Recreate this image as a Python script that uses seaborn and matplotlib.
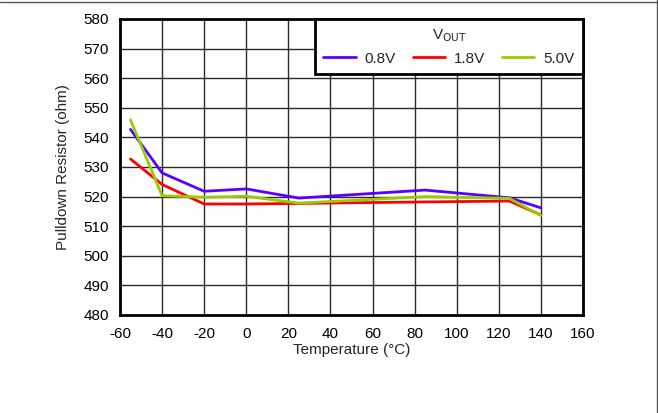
import pandas as pd
import seaborn as sns
import matplotlib.pyplot as plt
from matplotlib.lines import Line2D

temps = [-55, -40, -20, 0, 25, 85, 125, 140]
r_08v = [542.7, 528.0, 521.8, 522.6, 519.5, 522.2, 519.6, 516.2]
r_18v = [532.7, 524.1, 517.5, 517.5, 517.7, 518.2, 518.5, 513.8]
r_50v = [545.9, 520.3, 519.8, 520.1, 517.8, 520.0, 519.4, 513.6]
series = ["0.8V", "1.8V", "5.0V"]
colors = ["#5a00ff", "#ff0000", "#99cc00"]

sns.set_style("white")
plt.rcParams["font.family"] = ["Liberation Sans", "DejaVu Sans"]
plt.rcParams["axes.unicode_minus"] = False


def main():
    df = pd.DataFrame({
        "Temperature": temps * 3,
        "R": r_08v + r_18v + r_50v,
        "Vout": [s for s in series for _ in temps],
    })

    fig = plt.figure(figsize=(6.58, 4.13), dpi=100)
    ax = fig.add_axes([120 / 658, 1 - 315 / 413, 463 / 658, 296 / 413])

    sns.lineplot(data=df, x="Temperature", y="R", hue="Vout", palette=colors,
                 linewidth=2, ax=ax, legend=False, sort=False)

    ax.set_xlim(-60, 160)
    ax.set_ylim(480, 580)
    ax.set_xticks(range(-60, 161, 20))
    ax.set_yticks(range(480, 581, 10))
    ax.grid(True, color="#2a2a2a", linewidth=1)
    ax.set_axisbelow(True)
    ax.tick_params(length=0, labelsize=11, colors="black")
    ax.tick_params(axis="x", pad=9)
    ax.tick_params(axis="y", pad=8)
    for sp in ax.spines.values():
        sp.set_linewidth(2)
        sp.set_color("black")
        sp.set_visible(True)

    ax.set_xlabel("Temperature (°C)", fontsize=11, labelpad=1)
    ax.set_ylabel("Pulldown Resistor (ohm)", fontsize=11, labelpad=10)

    handles = [Line2D([0], [0], color=c, linewidth=2) for c in colors]
    leg = ax.legend(handles, series, title="V$_{\\mathrm{OUT}}$", ncol=3,
                    loc="upper right", bbox_to_anchor=(1.0, 1.0),
                    fontsize=11, title_fontsize=11, frameon=True,
                    fancybox=False, borderaxespad=0, handlelength=2.1,
                    handletextpad=0.6, columnspacing=1.1, borderpad=0.55,
                    edgecolor="black", framealpha=1)
    leg.get_frame().set_linewidth(2)

    # figure border (top and right edges visible)
    fig.add_artist(Line2D([0, 1], [0.995, 0.995], color="#555555", linewidth=1,
                          transform=fig.transFigure))
    fig.add_artist(Line2D([0.998, 0.998], [0, 1], color="#555555", linewidth=1,
                          transform=fig.transFigure))

    fig.savefig("out.png", dpi=100)
    plt.close(fig)


if __name__ == "__main__":
    main()
